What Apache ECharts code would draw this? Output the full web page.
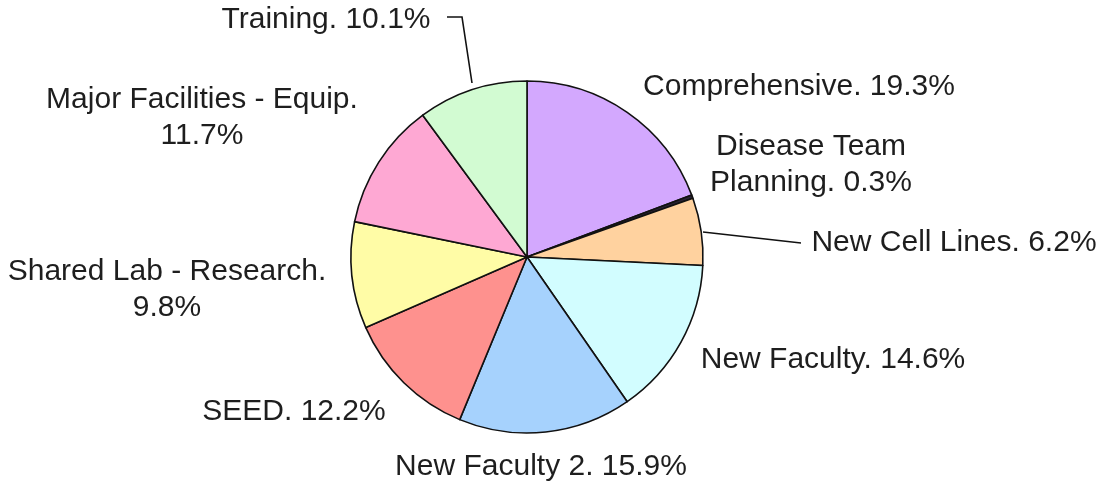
<!DOCTYPE html>
<html>
<head>
<meta charset="utf-8">
<script src="https://cdn.jsdelivr.net/npm/echarts@6/dist/echarts.min.js"></script>
<style>
html,body{margin:0;padding:0;background:#fff;}
#chart{width:1103px;height:485px;}
</style>
</head>
<body>
<div id="chart"></div>
<script>
var categories = ["Comprehensive", "Disease Team\nPlanning", "New Cell Lines", "New Faculty", "New Faculty 2", "SEED", "Shared Lab - Research", "Major Facilities - Equip", "Training"];
var shares = [19.3, 0.3, 6.2, 14.6, 15.9, 12.2, 9.8, 11.7, 10.1];
var labelTexts = ["Comprehensive. 19.3%", "Disease Team\nPlanning. 0.3%", "New Cell Lines. 6.2%", "New Faculty. 14.6%", "New Faculty 2. 15.9%", "SEED. 12.2%", "Shared Lab - Research.\n9.8%", "Major Facilities - Equip.\n11.7%", "Training. 10.1%"];

var sliceColors = ["#d3a8fe", "#2a2233", "#ffd29f", "#d2fdff", "#a6d2fd", "#fe918e", "#fffca6", "#fea8d3", "#d2fbd2"];
var labelPos = [[799, 87], [811, 165], [954, 243], [833, 360], [541, 467], [294, 412], [167, 290], [202, 118], [326, 20]];
var leaderLines = {
  2: [[703, 232], [752, 237.5], [801, 243]],
  8: [[447, 17], [462, 17], [472, 83]]
};

var chart = echarts.init(document.getElementById('chart'), null, {renderer: 'canvas'});
var data = categories.map(function (c, i) {
  return {
    name: c,
    value: shares[i],
    itemStyle: {color: sliceColors[i]},
    labelLine: {show: !!leaderLines[i]}
  };
});
chart.setOption({
  animation: false,
  series: [{
    type: 'pie',
    center: [527, 257],
    radius: 176,
    startAngle: 90,
    clockwise: true,
    avoidLabelOverlap: false,
    data: data,
    itemStyle: {borderColor: '#111', borderWidth: 1.6},
    label: {
      show: true,
      position: 'outside',
      formatter: function (p) { return labelTexts[p.dataIndex]; },
      fontFamily: 'Liberation Sans, Arial, sans-serif',
      fontSize: 30,
      lineHeight: 36,
      color: '#1e1e1e',
      align: 'center'
    },
    labelLine: {show: false, lineStyle: {color: '#111', width: 1.6}, smooth: false},
    emphasis: {disabled: true},
    labelLayout: function (params) {
      var i = params.dataIndex;
      var r = {x: labelPos[i][0], y: labelPos[i][1], align: 'center', verticalAlign: 'middle'};
      if (leaderLines[i]) r.labelLinePoints = leaderLines[i];
      return r;
    }
  }]
});
</script>
</body>
</html>
